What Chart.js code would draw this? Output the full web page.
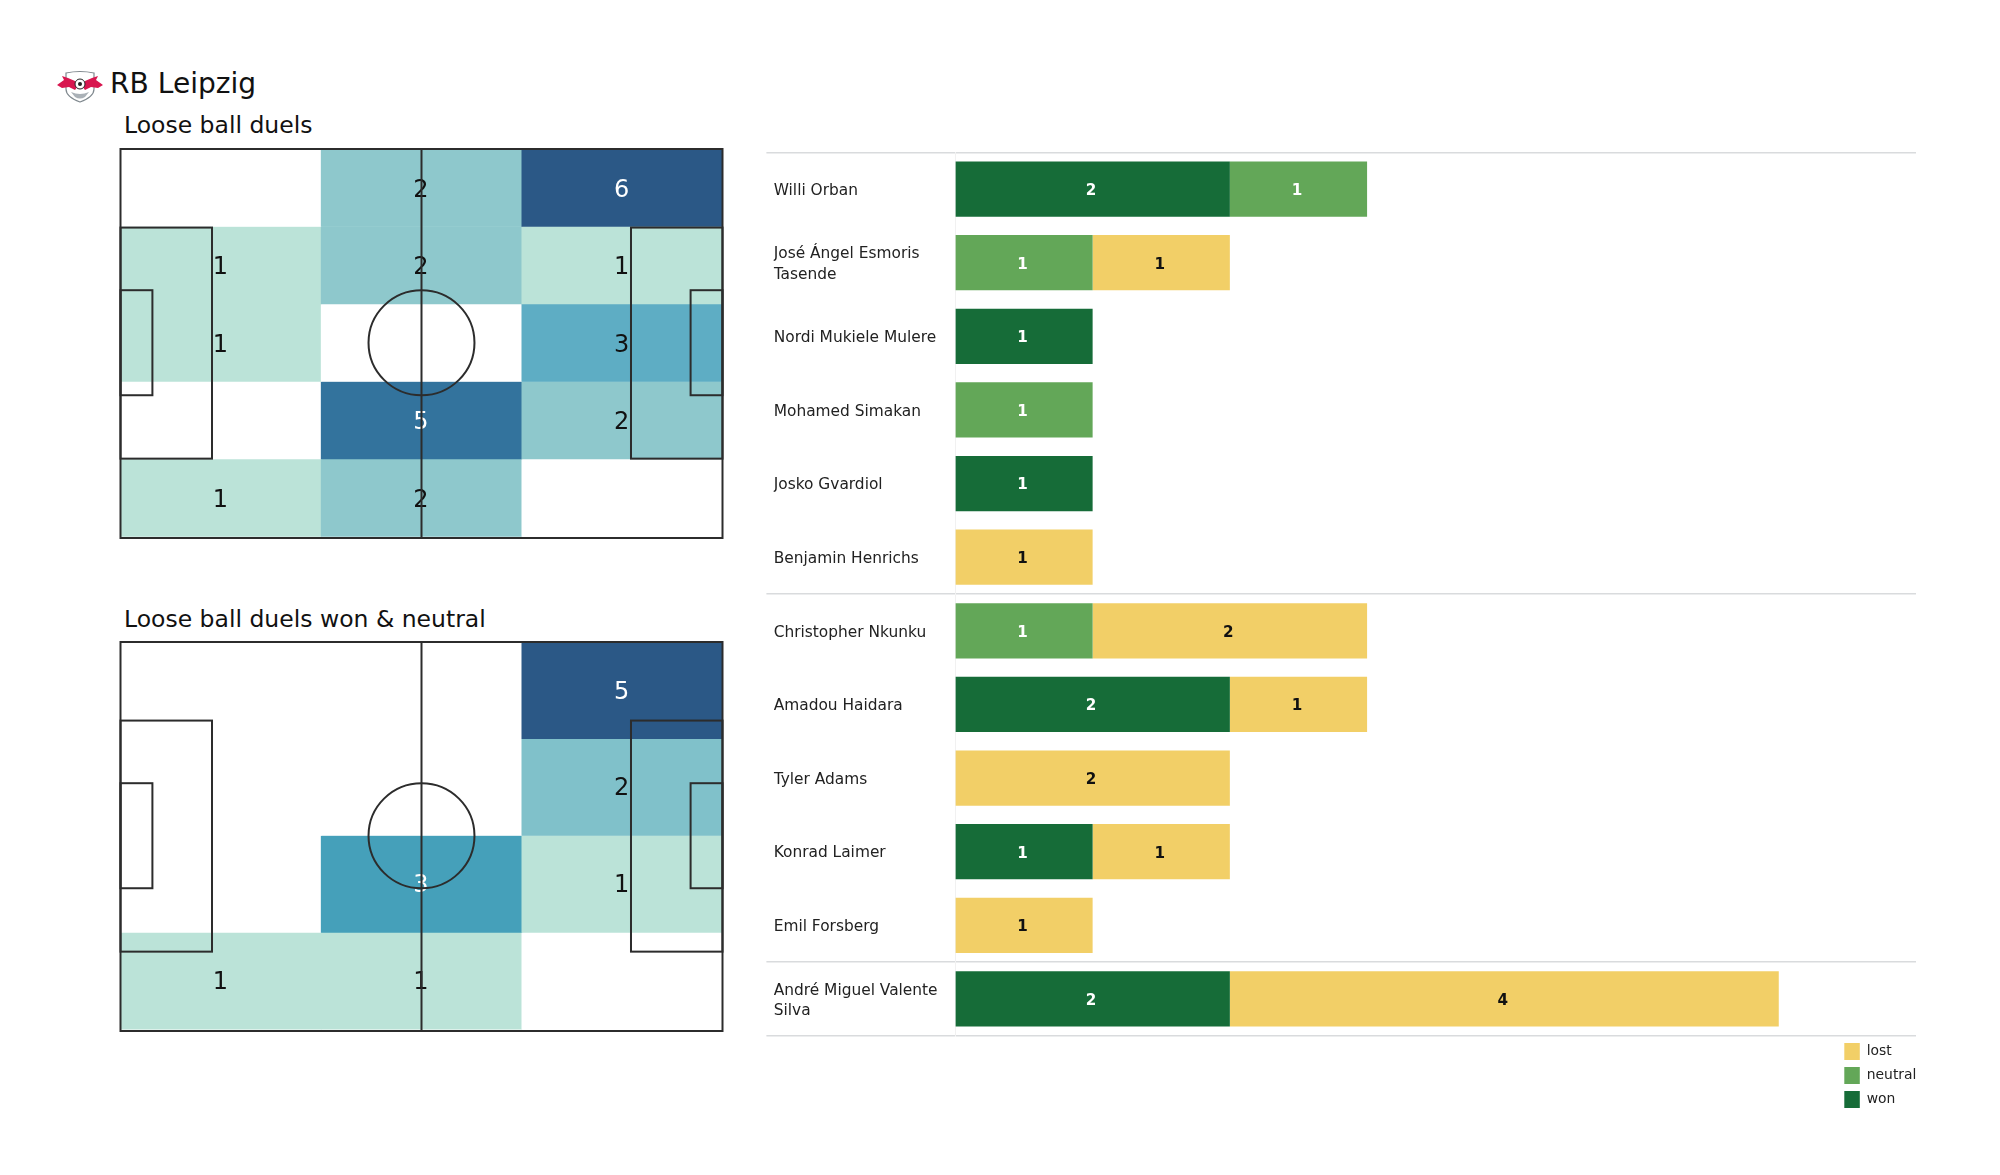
<!DOCTYPE html>
<html>
<head>
<meta charset="utf-8">
<title>RB Leipzig</title>
<script src="https://cdn.jsdelivr.net/npm/chart.js@4"></script>
<style>
html,body{margin:0;padding:0;background:#fff;width:2000px;height:1175px;overflow:hidden}
body{position:relative;font-family:"DejaVu Sans",sans-serif;color:#111}
canvas{position:absolute;display:block}
.t{position:absolute;white-space:nowrap;line-height:1}
svg{position:absolute}
</style>
</head>
<body>
<svg style="left:56px;top:70px" width="48" height="33" viewBox="0 0 48 33">
  <path d="M10 3 Q24 0 38 3 L38 19 Q38 27 24 32 Q10 27 10 19 Z" fill="#fff" stroke="#7f888e" stroke-width="1.2"/>
  <path d="M1 15 L8 10 L6 6 L12 8 L19 11 L22 16 L19 20 L13 17 L6 18 Z" fill="#d8164f"/>
  <path d="M47 15 L40 10 L42 6 L36 8 L29 11 L26 16 L29 20 L35 17 L42 18 Z" fill="#d8164f"/>
  <circle cx="24" cy="14" r="5" fill="#fff" stroke="#222" stroke-width="1"/>
  <circle cx="24" cy="14" r="2" fill="#222"/>
  <path d="M15 22 Q24 26 33 22 L29 27 Q24 30 19 27 Z" fill="#aab1b7"/>
</svg>
<div class="t" style="left:110px;top:70px;font-size:28.1px">RB Leipzig</div>
<div class="t" style="left:124px;top:114px;font-size:23.5px">Loose ball duels</div>
<div class="t" style="left:124px;top:608px;font-size:23.5px">Loose ball duels won &amp; neutral</div>
<canvas id="heat1" style="left:100px;top:140px"></canvas>
<canvas id="heat2" style="left:100px;top:630px"></canvas>
<canvas id="bars" style="left:766px;top:140px"></canvas>
<script>
// ---- Data ----
const zones = ['left', 'centre', 'right'];
const duelsRow1 = [0, 2, 6];
const duelsRow2 = [1, 2, 1];
const duelsRow3 = [1, 0, 3];
const duelsRow4 = [0, 5, 2];
const duelsRow5 = [1, 2, 0];
const wonRow1 = [0, 0, 5];
const wonRow2 = [0, 0, 2];
const wonRow3 = [0, 3, 1];
const wonRow4 = [1, 1, 0];
const duelsColors = {0: '#ffffff', 1: '#bbe3d8', 2: '#8ec8cc', 3: '#5eadc4', 5: '#33739d', 6: '#2b5886'};
const wonColors = {0: '#ffffff', 1: '#bbe3d8', 2: '#80c1ca', 3: '#45a0ba', 5: '#2b5886'};
const whiteCounts1 = [5, 6];
const whiteCounts2 = [3, 5];

const players = [
  'Willi Orban', ['José Ángel Esmoris', 'Tasende'], 'Nordi Mukiele Mulere', 'Mohamed Simakan',
  'Josko Gvardiol', 'Benjamin Henrichs', 'Christopher Nkunku', 'Amadou Haidara', 'Tyler Adams',
  'Konrad Laimer', 'Emil Forsberg', ['André Miguel Valente', 'Silva']
];
const won     = [2, 0, 1, 0, 1, 0, 0, 2, 0, 1, 0, 2];
const neutral = [1, 1, 0, 1, 0, 0, 1, 0, 0, 0, 0, 0];
const lost    = [0, 1, 0, 0, 0, 1, 2, 1, 2, 1, 1, 4];
const groupLines = [0, 6, 11];

const FONT = '"DejaVu Sans", sans-serif';
Chart.defaults.font.family = FONT;
Chart.defaults.animation = false;

// Pitch markings in 0-100 pitch units, converted through the hidden scales
const pitchRects = [
  [0, 20.2, 15.2, 79.6], [0, 36.3, 5.3, 63.3],
  [84.8, 20.2, 100, 79.6], [94.7, 36.3, 100, 63.3]
];
const circle = {x: 50, y: 49.8, rx: 6.95, ry: 13.5};

const pitchPlugin = {
  id: 'pitch',
  afterDatasetsDraw(chart) {
    const {ctx} = chart, opts = chart.options.plugins.pitch;
    ctx.save();
    ctx.font = '24px ' + FONT;
    ctx.textAlign = 'center';
    ctx.textBaseline = 'middle';
    chart.data.datasets.forEach((ds, i) => {
      chart.getDatasetMeta(i).data.forEach((bar, j) => {
        const v = ds.counts[j];
        if (!v) return;
        ctx.fillStyle = opts.whites.includes(v) ? '#ffffff' : '#111111';
        ctx.fillText(String(v), bar.x - 0.5, (bar.y + bar.base) / 2 + opts.textShift);
      });
    });
    const X = chart.scales.px, Y = chart.scales.py;
    ctx.strokeStyle = '#2c2c2c';
    ctx.lineWidth = 2;
    ctx.strokeRect(X.left, Y.top, X.right - X.left, Y.bottom - Y.top);
    pitchRects.forEach(r => {
      ctx.strokeRect(X.getPixelForValue(r[0]), Y.getPixelForValue(r[1]),
        X.getPixelForValue(r[2]) - X.getPixelForValue(r[0]), Y.getPixelForValue(r[3]) - Y.getPixelForValue(r[1]));
    });
    ctx.beginPath();
    ctx.moveTo(X.getPixelForValue(50), Y.top);
    ctx.lineTo(X.getPixelForValue(50), Y.bottom);
    ctx.stroke();
    ctx.beginPath();
    ctx.ellipse(X.getPixelForValue(circle.x), Y.getPixelForValue(circle.y),
      (X.right - X.left) * 8.8 / 100,
      (Y.bottom - Y.top) * circle.ry / 100, 0, 0, Math.PI * 2);
    ctx.stroke();
    ctx.restore();
  }
};

function heatChart(id, rows, colors, whites, padding, textShift) {
  const canvas = document.getElementById(id);
  canvas.width = 640; canvas.height = 420;
  canvas.style.width = '640px'; canvas.style.height = '420px';
  return new Chart(canvas, {
    type: 'bar',
    data: {
      labels: zones,
      datasets: rows.map((row, r) => ({
        label: 'row ' + (r + 1),
        counts: row,
        data: row.map(() => [r, r + 1]),
        backgroundColor: row.map(v => colors[v]),
        borderWidth: 0,
        barPercentage: 1,
        categoryPercentage: 1,
        grouped: false
      }))
    },
    options: {
      responsive: false,
      layout: {padding},
      plugins: {legend: {display: false}, tooltip: {enabled: false}, pitch: {whites, textShift}},
      scales: {
        x: {display: false},
        y: {display: false, reverse: true, min: 0, max: rows.length + 0.02},
        px: {display: false, type: 'linear', axis: 'x', offset: false, min: 0, max: 100},
        py: {display: false, type: 'linear', axis: 'y', offset: false, reverse: true, min: 0, max: 100}
      }
    },
    plugins: [pitchPlugin]
  });
}

heatChart('heat1', [duelsRow1, duelsRow2, duelsRow3, duelsRow4, duelsRow5], duelsColors, whiteCounts1,
  {left: 20.5, right: 17.5, top: 9, bottom: 22}, 3);
heatChart('heat2', [wonRow1, wonRow2, wonRow3, wonRow4], wonColors, whiteCounts2,
  {left: 20.5, right: 17.5, top: 12, bottom: 19}, 2);

// ---- Stacked bars ----
const barValuePlugin = {
  id: 'barValues',
  afterDatasetsDraw(chart) {
    const {ctx} = chart;
    ctx.save();
    ctx.font = 'bold 15.2px ' + FONT;
    ctx.textAlign = 'center';
    ctx.textBaseline = 'middle';
    chart.data.datasets.forEach((ds, i) => {
      chart.getDatasetMeta(i).data.forEach((bar, j) => {
        const v = ds.data[j];
        if (!v) return;
        ctx.fillStyle = ds.valueColor;
        ctx.fillText(String(v), (bar.x + bar.base) / 2 - 1.5, bar.y + 1.9);
      });
    });
    ctx.restore();
  }
};
const legendPlace = {
  id: 'legendPlace',
  beforeDraw(chart) {
    const l = chart.legend;
    const w = l.width, h = l.height;
    l.left = 1844.3 - 766 - 7; l.right = l.left + w;
    l.top = chart.chartArea.bottom + 0.2; l.bottom = l.top + h;
  }
};
const barCanvas = document.getElementById('bars');
barCanvas.width = 1170; barCanvas.height = 980;
barCanvas.style.width = '1170px'; barCanvas.style.height = '980px';
const GRID = '#d9dbdd';
const isGroupLine = c => c.index === undefined || groupLines.includes(c.index);
new Chart(barCanvas, {
  type: 'bar',
  data: {
    labels: players,
    datasets: [
      {label: 'won', data: won, backgroundColor: '#166c38', valueColor: '#ffffff'},
      {label: 'neutral', data: neutral, backgroundColor: '#63a758', valueColor: '#ffffff'},
      {label: 'lost', data: lost, backgroundColor: '#f2cf67', valueColor: '#111111'}
    ]
  },
  options: {
    responsive: false,
    indexAxis: 'y',
    datasets: {bar: {categoryPercentage: 1, barPercentage: 0.75, borderWidth: 0}},
    layout: {padding: {left: 7.7, right: 20, top: 12.3, bottom: 84.3}},
    plugins: {
      tooltip: {enabled: false},
      legend: {
        position: 'chartArea',
        align: 'start',
        reverse: true,
        labels: {
          boxWidth: 15.5, boxHeight: 17, padding: 7,
          color: '#222222', font: {family: FONT, size: 13.9}
        }
      }
    },
    scales: {
      x: {display: false, stacked: true, min: 0, max: 7},
      y: {
        stacked: true,
        afterFit(s) { s.width = 181.7; s.paddingTop = 0; s.paddingBottom = 0; },
        grid: {
          offset: true, drawOnChartArea: true, drawTicks: true, tickLength: 189,
          color: c => isGroupLine(c) ? GRID : 'rgba(0,0,0,0)',
          tickColor: c => isGroupLine(c) ? GRID : 'rgba(0,0,0,0)',
          lineWidth: 1.5, tickWidth: 1.5
        },
        border: {display: true, color: '#f1f1f1', width: 1},
        ticks: {
          crossAlign: 'far', color: '#222222', autoSkip: false, maxRotation: 0, labelOffset: 1.7,
          font: {family: FONT, size: 15.4, lineHeight: 1.31}
        }
      }
    }
  },
  plugins: [barValuePlugin, legendPlace]
});
</script>
</body>
</html>
